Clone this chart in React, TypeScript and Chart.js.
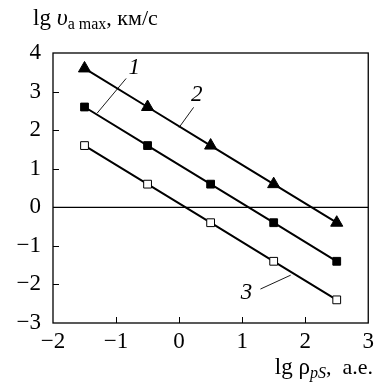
import React, { useEffect, useRef } from "react";
import { Chart, registerables } from "chart.js";

Chart.register(...registerables);

const xValues = [-1.5, -0.5, 0.5, 1.5, 2.5];
const series1 = [2.6, 1.6, 0.6, -0.4, -1.4]; // filled squares, "1"
const series2 = [3.6, 2.6, 1.6, 0.6, -0.4]; // triangles, "2"
const series3 = [1.6, 0.6, -0.4, -1.4, -2.4]; // open squares, "3"
const xTicks = [-2, -1, 0, 1, 2, 3];
const yTicks = [-3, -2, -1, 0, 1, 2, 3, 4];

// annotation labels: [label, textX, textY, lineX1, lineY1, lineX2, lineY2] in data units
const labels: [string, number, number, number, number, number, number][] = [
  ["1", -0.71, 3.6, -0.84, 3.34, -1.3, 2.44],
  ["2", 0.28, 2.9, 0.23, 2.59, 0.0, 2.07],
  ["3", 1.07, -2.23, 1.29, -2.12, 1.77, -1.76],
];

const SERIF = '"Liberation Serif", "DejaVu Serif", "Times New Roman", serif';

type Seg = { t: string; size: number; italic?: boolean; dy?: number };

function drawRich(ctx: CanvasRenderingContext2D, segs: Seg[], x: number, y: number, align: "left" | "right") {
  ctx.save();
  ctx.textBaseline = "alphabetic";
  ctx.textAlign = "left";
  ctx.fillStyle = "#000";
  let total = 0;
  const widths = segs.map((s) => {
    ctx.font = `${s.italic ? "italic " : ""}${s.size}px ${SERIF}`;
    const w = ctx.measureText(s.t).width;
    total += w;
    return w;
  });
  let cx = align === "left" ? x : x - total;
  segs.forEach((s, i) => {
    ctx.font = `${s.italic ? "italic " : ""}${s.size}px ${SERIF}`;
    ctx.fillText(s.t, cx, y + (s.dy || 0));
    cx += widths[i];
  });
  ctx.restore();
}

const decorPlugin = {
  id: "decor",
  beforeDatasetsDraw(chart: any) {
    const { ctx, chartArea: a, scales } = chart;
    const xs = scales.x;
    const ys = scales.y;
    ctx.save();
    ctx.strokeStyle = "#000";
    ctx.lineWidth = 1.2;
    const y0 = ys.getPixelForValue(0);
    ctx.beginPath();
    ctx.moveTo(a.left, y0);
    ctx.lineTo(a.right, y0);
    ctx.stroke();
    ctx.lineWidth = 1;
    xTicks.forEach((v) => {
      if (v === xTicks[0] || v === xTicks[xTicks.length - 1]) return;
      const px = Math.round(xs.getPixelForValue(v)) + 0.5;
      ctx.beginPath();
      ctx.moveTo(px, a.bottom);
      ctx.lineTo(px, a.bottom - 6);
      ctx.stroke();
    });
    yTicks.forEach((v) => {
      if (v === yTicks[0] || v === yTicks[yTicks.length - 1] || v === 0) return;
      const py = Math.round(ys.getPixelForValue(v)) + 0.5;
      ctx.beginPath();
      ctx.moveTo(a.left, py);
      ctx.lineTo(a.left + 6, py);
      ctx.stroke();
    });
    ctx.lineWidth = 1.3;
    ctx.strokeRect(a.left, a.top, a.right - a.left, a.bottom - a.top);
    ctx.restore();
  },
  afterDraw(chart: any) {
    const { ctx, scales } = chart;
    const xs = scales.x;
    const ys = scales.y;
    ctx.save();
    ctx.strokeStyle = "#000";
    ctx.lineWidth = 0.9;
    labels.forEach(([t, tx, ty, x1, y1, x2, y2]) => {
      ctx.beginPath();
      ctx.moveTo(xs.getPixelForValue(x1), ys.getPixelForValue(y1));
      ctx.lineTo(xs.getPixelForValue(x2), ys.getPixelForValue(y2));
      ctx.stroke();
      ctx.font = `italic 23px ${SERIF}`;
      ctx.fillStyle = "#000";
      ctx.textAlign = "center";
      ctx.textBaseline = "middle";
      ctx.fillText(t, xs.getPixelForValue(tx), ys.getPixelForValue(ty));
    });
    ctx.restore();
    drawRich(
      ctx,
      [
        { t: "lg ", size: 23 },
        { t: "υ", size: 24, italic: true },
        { t: "a max", size: 16, dy: 4 },
        { t: ", км/с", size: 22 },
      ],
      33,
      25,
      "left"
    );
    drawRich(
      ctx,
      [
        { t: "lg ρ", size: 23 },
        { t: "pS", size: 16, italic: true, dy: 4 },
        { t: ",  а.е.", size: 22 },
      ],
      373,
      374,
      "right"
    );
  },
};

export default function App() {
  const ref = useRef<HTMLCanvasElement>(null);
  useEffect(() => {
    if (!ref.current) return;
    const toPts = (ys: number[]) => xValues.map((x, i) => ({ x, y: ys[i] }));
    const tickFmt = (v: any) => (Number(v) < 0 ? "\u2212" + Math.abs(Number(v)) : String(v));
    const chart = new Chart(ref.current, {
      type: "scatter",
      data: {
        datasets: [
          {
            label: "3",
            data: toPts(series3),
            showLine: true,
            borderColor: "#000",
            borderWidth: 2,
            pointStyle: "rect",
            pointRadius: 5.5,
            pointBackgroundColor: "#fff",
            pointBorderColor: "#000",
            pointBorderWidth: 1,
          },
          {
            label: "1",
            data: toPts(series1),
            showLine: true,
            borderColor: "#000",
            borderWidth: 2,
            pointStyle: "rect",
            pointRadius: 5.5,
            pointBackgroundColor: "#000",
            pointBorderColor: "#000",
            pointBorderWidth: 1,
          },
          {
            label: "2",
            data: toPts(series2),
            showLine: true,
            borderColor: "#000",
            borderWidth: 2,
            pointStyle: "triangle",
            pointRadius: 7,
            pointBackgroundColor: "#000",
            pointBorderColor: "#000",
            pointBorderWidth: 1,
          },
        ],
      },
      options: {
        responsive: false,
        animation: false,
        layout: { padding: { left: 0, right: 8, top: 53, bottom: 0 } },
        plugins: { legend: { display: false }, tooltip: { enabled: false } },
        scales: {
          x: {
            type: "linear",
            min: -2,
            max: 3,
            afterFit: (s: any) => {
              s.height = 65;
            },
            afterBuildTicks: (s: any) => {
              s.ticks = xTicks.map((v) => ({ value: v }));
            },
            grid: { display: false, drawTicks: false },
            border: { display: false },
            ticks: {
              color: "#000",
              padding: 5,
              maxRotation: 0,
              autoSkip: false,
              font: { family: SERIF, size: 23 },
              callback: tickFmt,
            },
          },
          y: {
            type: "linear",
            min: -3,
            max: 4,
            afterFit: (s: any) => {
              s.width = 53;
            },
            afterBuildTicks: (s: any) => {
              s.ticks = yTicks.map((v) => ({ value: v }));
            },
            grid: { display: false, drawTicks: false },
            border: { display: false },
            ticks: {
              color: "#000",
              padding: 12,
              autoSkip: false,
              font: { family: SERIF, size: 23 },
              callback: tickFmt,
            },
          },
        },
      },
      plugins: [decorPlugin],
    });
    return () => chart.destroy();
  }, []);
  return (
    <div style={{ position: "absolute", left: 0, top: 0, width: 379, height: 388, background: "#fff" }}>
      <canvas ref={ref} width={379} height={388} />
    </div>
  );
}
